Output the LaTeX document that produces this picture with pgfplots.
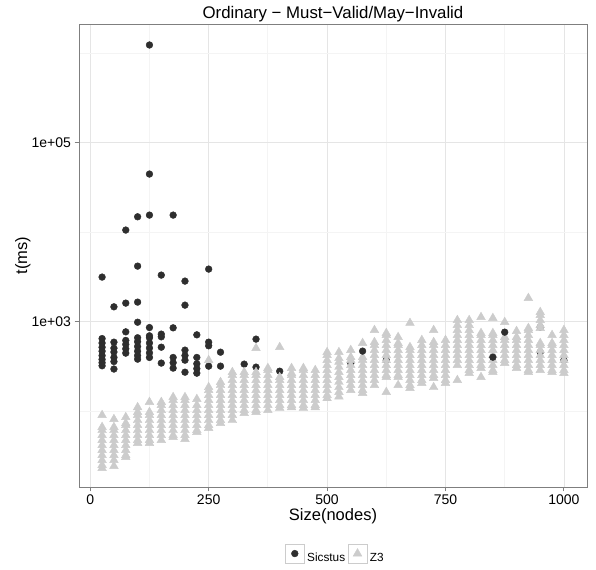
\documentclass[border=0pt]{standalone}
\usepackage{fontspec}
\setmainfont{Liberation Sans}
\usepackage{pgfplots}
\pgfplotsset{compat=1.18}
\definecolor{sic}{HTML}{2E2E2E}
\definecolor{zth}{HTML}{CCCCCC}
\definecolor{gmaj}{HTML}{E5E5E5}
\definecolor{gmin}{HTML}{F4F4F4}
\definecolor{bord}{HTML}{7F7F7F}
\definecolor{keyb}{HTML}{CCCCCC}
\begin{document}
\begin{tikzpicture}
\path[use as bounding box] (0,0) rectangle (596bp,570bp);
\begin{axis}[
  at={(79bp,83bp)}, anchor=south west,
  scale only axis, width=508bp, height=463bp,
  xmin=-23.75, xmax=1048.75,
  ymode=log, ymin=14.3, ymax=2.12e6,
  xtick={0,250,500,750,1000}, xticklabels={0,250,500,750,1000},
  minor xtick={125,375,625,875},
  ytick={1000,100000}, yticklabels={1e+03,1e+05},
  minor ytick={100,10000,1000000},
  grid=both,
  major grid style={gmaj, line width=0.8bp},
  minor grid style={gmin, line width=0.8bp},
  axis line style={bord, line width=0.9bp},
  tick align=outside, major tick length=4.5bp, minor tick length=0pt,
  xtick pos=bottom, ytick pos=left,
  major tick style={bord, line width=0.9bp},
  ticklabel style={font=\fontsize{14bp}{16bp}\selectfont, text=black},
  /pgf/number format/assume math mode=true,
  legend style={at={(0.505,-0.1458)}, anchor=center, draw=none, fill=none,
    legend columns=2, font=\fontsize{11.8bp}{13bp}\selectfont,
    /tikz/every even column/.append style={column sep=0bp},
    nodes={inner sep=2.5bp}},
  legend image code/.code={
    \draw[draw=keyb, fill=white, line width=0.7bp] (-9.5bp,-5.3bp) rectangle (9.5bp,13.7bp);
    \draw plot coordinates {(0bp,4.2bp)};
  },
]
\addplot[only marks, mark=*, mark size=3.4bp, color=sic, mark options={fill=sic, draw=sic}] coordinates {
(25,3160)(25,650)(25,580)(25,520)(25,470)(25,420)(25,380)(25,350)(25,323)
(50,1471)(50,593)(50,508)(50,460)(50,400)(50,360)(50,297)
(75,10590)(75,1618)(75,773)(75,620)(75,560)(75,500)(75,447)
(100,14900)(100,4190)(100,1660)(100,990)(100,664)(100,600)(100,530)(100,470)(100,420)(100,383)
(125,1236000)(125,44700)(125,15560)(125,863)(125,698)(125,664)(125,580)(125,510)(125,450)(125,400)
(150,3325)(150,729)(150,680)(150,521)(150,346)
(175,15560)(175,857)(175,400)(175,350)(175,304)
(200,2850)(200,1536)(200,483)(200,420)(200,373)(200,274)
(225,716)(225,400)(225,340)(225,300)(225,267)
(250,3880)(250,593)(250,540)(250,320)
(275,458)(275,320)
(325,337)
(350,641)(350,312)
(400,281)
(550,346)(625,373)(950,458)(950,873)(1000,373)
};
\addlegendentry{Sicstus}
\addplot[only marks, mark=triangle*, mark size=5bp, color=zth, mark options={fill=zth, draw=zth}] coordinates {
(25,90.7)(25,66.7)(25,61.6)(25,54.2)(25,47.7)(25,41.9)(25,36.9)(25,32.4)(25,28.5)(25,25.1)(25,23.2)
(50,81.8)(50,66.7)(50,61.6)(50,54.2)(50,47.7)(50,41.9)(50,36.9)(50,32.4)(50,28.5)(50,24.5)
(75,86.1)(75,73.8)(75,70.1)(75,61.6)(75,54.2)(75,47.7)(75,41.9)(75,36.9)(75,32.4)(75,30.8)
(100,111)(100,98)(100,90.7)(100,79.7)(100,70.1)(100,61.6)(100,54.2)(100,47.7)(100,44.2)
(125,127)(125,98)(125,90.7)(125,79.7)(125,70.1)(125,61.6)(125,54.2)(125,47.7)(125,44.2)
(150,127)(150,117.3)(150,103.1)(150,90.7)(150,79.7)(150,70.1)(150,61.6)(150,54.2)(150,47.7)
(175,144)(175,133.4)(175,117.3)(175,103.1)(175,90.7)(175,79.7)(175,70.1)(175,61.6)(175,54.2)(175,51.5)
(200,144)(200,133.4)(200,117.3)(200,103.1)(200,90.7)(200,79.7)(200,70.1)(200,61.6)(200,54.2)(200,49)
(225,137)(225,117.3)(225,103.1)(225,90.7)(225,79.7)(225,70.1)(225,61.6)(225,58.6)
(250,373)(250,186)(250,172.5)(250,151.7)(250,133.4)(250,117.3)(250,103.1)(250,90.7)(250,79.7)(250,70.1)(250,64.9)
(275,212)(275,196)(275,172.5)(275,151.7)(275,133.4)(275,117.3)(275,103.1)(275,90.7)(275,79.7)(275,73.8)
(300,274)(300,253.8)(300,223.2)(300,196.2)(300,172.5)(300,151.7)(300,133.4)(300,117.3)(300,103.1)(300,90.7)(300,79.7)
(325,274)(325,253.8)(325,223.2)(325,196.2)(325,172.5)(325,151.7)(325,133.4)(325,117.3)(325,103.1)(325,95.5)
(350,508)(350,274)(350,253.8)(350,223.2)(350,196.2)(350,172.5)(350,151.7)(350,133.4)(350,117.3)(350,103.1)(350,98)
(375,304)(375,288.6)(375,253.8)(375,223.2)(375,196.2)(375,172.5)(375,151.7)(375,133.4)(375,117.3)(375,103.1)
(400,521)(400,241)(400,223.2)(400,196.2)(400,172.5)(400,151.7)(400,133.4)(400,117.3)(400,109)
(425,304)(425,267)(425,253.8)(425,223.2)(425,196.2)(425,172.5)(425,151.7)(425,133.4)(425,117.3)(425,111)
(450,304)(450,288.6)(450,253.8)(450,223.2)(450,196.2)(450,172.5)(450,151.7)(450,133.4)(450,117.3)(450,109)
(475,288.6)(475,253.8)(475,223.2)(475,196.2)(475,172.5)(475,151.7)(475,133.4)(475,117.3)(475,111)
(500,458)(500,424.6)(500,373.3)(500,328.3)(500,288.6)(500,253.8)(500,223.2)(500,196.2)(500,172.5)(500,151.7)(500,140)
(525,458)(525,392)(525,357)(525,313)(525,274)(525,241)(525,213)(525,186)(525,164)(525,146)
(550,482.9)(550,403)(550,373.3)(550,328.3)(550,288.6)(550,253.8)(550,223.2)(550,196.2)(550,172.5)
(575,578)(575,403)(575,373.3)(575,328.3)(575,288.6)(575,253.8)(575,223.2)(575,196.2)(575,172.5)(575,160)
(600,807.8)(600,593)(600,549.1)(600,482.9)(600,424.6)(600,373.3)(600,328.3)(600,288.6)(600,253.8)(600,223.2)(600,196.2)
(625,748)(625,710.3)(625,624.5)(625,549.1)(625,482.9)(625,424.6)(625,373.3)(625,328.3)(625,288.6)(625,253.8)(625,241)(625,164)
(650,675)(650,578)(650,549.1)(650,482.9)(650,424.6)(650,373.3)(650,328.3)(650,288.6)(650,253.8)(650,241)(650,196.2)
(675,970)(675,521)(675,482.9)(675,424.6)(675,373.3)(675,328.3)(675,288.6)(675,253.8)(675,223.2)(675,196.2)(675,182)
(700,624.5)(700,549.1)(700,482.9)(700,424.6)(700,373.3)(700,328.3)(700,288.6)(700,253.8)(700,223.2)(700,207)
(725,807.8)(725,593)(725,549.1)(725,482.9)(725,424.6)(725,373.3)(725,328.3)(725,288.6)(725,253.8)(725,235)(725,186)
(750,624.5)(750,549.1)(750,482.9)(750,424.6)(750,373.3)(750,328.3)(750,288.6)(750,253.8)(750,223.2)(750,207)
(775,1044)(775,918.7)(775,807.8)(775,710.3)(775,624.5)(775,549.1)(775,482.9)(775,424.6)(775,373.3)(775,328.3)(775,223.2)
(800,1044)(800,918.7)(800,807.8)(800,710.3)(800,624.5)(800,549.1)(800,482.9)(800,424.6)(800,373.3)(800,328.3)(800,288.6)(800,267)
(825,1128)(825,748)(825,710.3)(825,624.5)(825,549.1)(825,482.9)(825,424.6)(825,373.3)(825,328.3)(825,304)(825,241)
(850,1100)(850,748)(850,710.3)(850,624.5)(850,549.1)(850,482.9)(850,424.6)(850,373.3)(850,328.3)(850,288.6)(850,274)
(875,992)(875,675)(875,624.5)(875,549.1)(875,482.9)(875,424.6)(875,373.3)(875,346)
(900,787)(900,675)(900,624.5)(900,549.1)(900,482.9)(900,424.6)(900,373.3)(900,328.3)(900,304)
(925,1841)(925,851)(925,807.8)(925,710.3)(925,624.5)(925,549.1)(925,482.9)(925,424.6)(925,373.3)(925,328.3)(925,288.6)(925,274)
(950,1283)(950,1188)(950,1044)(950,918.7)(950,851)(950,578)(950,549.1)(950,482.9)(950,424.6)(950,373.3)(950,328.3)(950,288.6)
(975,710.3)(975,578)(975,549.1)(975,482.9)(975,424.6)(975,373.3)(975,328.3)(975,288.6)(975,274)
(1000,807.8)(1000,710.3)(1000,624.5)(1000,549.1)(1000,482.9)(1000,424.6)(1000,373.3)(1000,328.3)(1000,288.6)(1000,267)
};
\addlegendentry{Z3}
\addplot[only marks, mark=*, mark size=3.4bp, color=sic, mark options={fill=sic, draw=sic}, forget plot] coordinates {
(575,471)(850,403)(875,767)
};
\end{axis}
\node[font=\fontsize{16.8bp}{18bp}\selectfont, anchor=base] at (333bp,551bp) {Ordinary − Must−Valid/May−Invalid};
\node[font=\fontsize{16.5bp}{18bp}\selectfont, anchor=base] at (333bp,49.5bp) {Size(nodes)};
\node[font=\fontsize{16.5bp}{18bp}\selectfont, anchor=base, rotate=90] at (27bp,314.5bp) {t(ms)};
\end{tikzpicture}
\end{document}
